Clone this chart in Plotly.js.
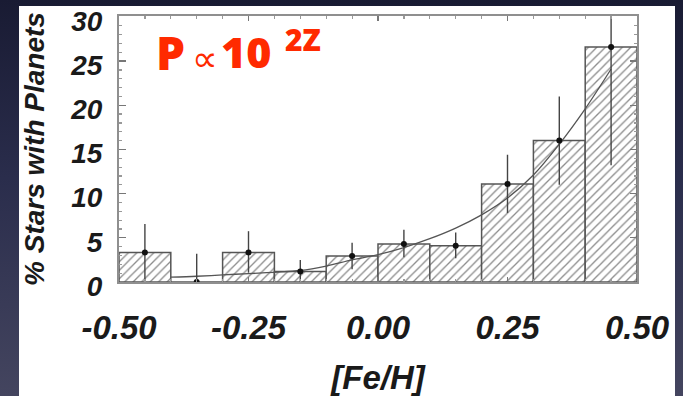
<!DOCTYPE html>
<html>
<head>
<meta charset="utf-8">
<script src="https://cdn.plot.ly/plotly-3.0.1.min.js"></script>
<style>
  html, body { margin: 0; padding: 0; width: 683px; height: 396px; overflow: hidden;
    background: linear-gradient(to bottom, #191b33 0%, #2a2d4c 45%, #44455f 100%); }
  #chart { position: absolute; left: 19px; top: 6px; width: 656px; height: 390px; }
</style>
</head>
<body>
<div id="chart"></div>
<script>
// ---- data ----
const binCenters = [-0.45, -0.35, -0.25, -0.15, -0.05, 0.05, 0.15, 0.25, 0.35, 0.45];
const binWidth = 0.1;
const percentPlanets = [3.35, 0.0, 3.35, 1.2, 2.95, 4.3, 4.1, 11.1, 16.0, 26.6];
const errPlus  = [3.2, 3.2, 2.4, 1.3, 1.5, 1.6, 1.5, 3.3, 5.0, 13.4];
const errMinus = [3.35, 0.0, 2.3, 1.2, 1.5, 1.5, 1.4, 3.3, 5.0, 13.4];
const fitX = [-0.40, -0.35, -0.30, -0.25, -0.20, -0.15, -0.10, -0.05, 0.00, 0.05, 0.10, 0.15, 0.20, 0.25, 0.30, 0.35, 0.40, 0.45];
const fitY = [0.55, 0.65, 0.8, 0.95, 1.1, 1.3, 1.8, 2.5, 3.1, 3.9, 4.9, 6.1, 7.6, 9.5, 12.1, 15.6, 19.6, 24.1];
const xTickVals = [-0.5, -0.25, 0, 0.25, 0.5];
const xTickText = ["-0.50", "-0.25", "0.00", "0.25", "0.50"];
const yTickVals = [0, 5, 10, 15, 20, 25, 30];
const yTickText = ["0", "5", "10", "15", "20", "25", "30"];
const binWidths = binCenters.map(() => binWidth);

const red = '#ff2a00';
const axFont = 'Liberation Sans, Arial, Helvetica, sans-serif';

const traces = [
  {
    type: 'bar', x: binCenters, y: percentPlanets, width: binWidths,
    marker: {
      color: 'white',
      pattern: { shape: '/', fgcolor: '#8c8c8c', bgcolor: 'white', size: 6, solidity: 0.22 },
      line: { color: '#555', width: 1.5 }
    },
    hoverinfo: 'skip'
  },
  {
    type: 'scatter', mode: 'lines', x: fitX, y: fitY,
    line: { color: '#555', width: 1.3, shape: 'spline' },
    hoverinfo: 'skip'
  },
  {
    type: 'scatter', mode: 'markers', x: binCenters, y: percentPlanets,
    marker: { color: '#111', size: 6 },
    error_y: { type: 'data', symmetric: false, array: errPlus, arrayminus: errMinus,
               width: 0, thickness: 1.4, color: '#444' },
    cliponaxis: true,
    hoverinfo: 'skip'
  }
];

const layout = {
  width: 656, height: 390,
  margin: { l: 100, r: 38, t: 10, b: 114 },
  paper_bgcolor: 'white', plot_bgcolor: 'white',
  showlegend: false, bargap: 0,
  xaxis: {
    range: [-0.5, 0.5], tickvals: xTickVals, ticktext: xTickText,
    ticks: 'inside', ticklen: 5, tickwidth: 1.2, tickcolor: '#777',
    minor: { dtick: 0.05, tick0: 0, ticks: 'inside', ticklen: 3, tickcolor: '#999' },
    showline: true, linecolor: '#8f8f8f', linewidth: 2, mirror: 'allticks',
    showgrid: false, zeroline: false,
    tickfont: { family: axFont, size: 33, color: '#1a1a1a', weight: 'bold', style: 'italic' },
    ticklabelstandoff: 15, ticklabeloverflow: 'allow',
    title: { text: '[Fe/H]', font: { family: axFont, size: 33, color: '#1a1a1a', weight: 'bold', style: 'italic' }, standoff: 23 }
  },
  yaxis: {
    range: [0, 30.1], tickvals: yTickVals, ticktext: yTickText,
    ticks: 'inside', ticklen: 7, tickwidth: 1.2, tickcolor: '#777',
    minor: { dtick: 1, tick0: 0, ticks: 'inside', ticklen: 3, tickcolor: '#999' },
    showline: true, linecolor: '#8f8f8f', linewidth: 2, mirror: 'allticks',
    showgrid: false, zeroline: false,
    tickfont: { family: axFont, size: 28, color: '#1a1a1a', weight: 'bold', style: 'italic' },
    ticklabelstandoff: 9, ticklabelshift: 4, ticklabeloverflow: 'allow',
    title: { text: '% Stars with Planets', font: { family: axFont, size: 28, color: '#1a1a1a', weight: 'bold', style: 'italic' }, standoff: 20 }
  },
  annotations: [
    { xref: 'paper', yref: 'paper', x: 0.0675, y: 0.8656, xanchor: 'left', yanchor: 'middle',
      text: 'P', showarrow: false, font: { family: 'Open Sans', size: 46, color: red, weight: 800 } },
    { xref: 'paper', yref: 'paper', x: 0.1668, y: 0.842, xanchor: 'center', yanchor: 'middle',
      text: '∝', showarrow: false, font: { family: 'DejaVu Sans', size: 36, color: red } },
    { xref: 'paper', yref: 'paper', x: 0.245, y: 0.8656, xanchor: 'center', yanchor: 'middle',
      text: '10', showarrow: false, font: { family: 'Open Sans', size: 43, color: red, weight: 800 } },
    { xref: 'paper', yref: 'paper', x: 0.3558, y: 0.911, xanchor: 'center', yanchor: 'middle',
      text: '2Z', showarrow: false, font: { family: 'Open Sans', size: 30, color: red, weight: 800 } }
  ]
};

Plotly.newPlot('chart', traces, layout, { staticPlot: true, displayModeBar: false });
</script>
</body>
</html>
